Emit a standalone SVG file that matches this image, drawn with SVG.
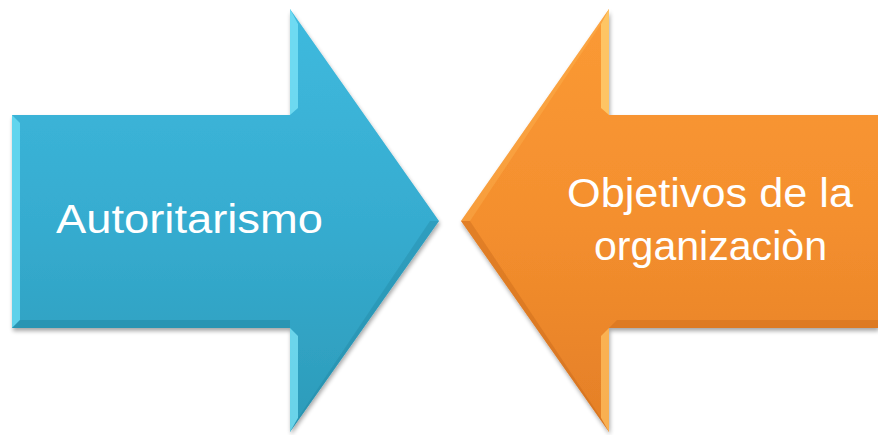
<svg xmlns="http://www.w3.org/2000/svg" width="878" height="435" viewBox="0 0 878 435">
<style>
.lbl{font-family:"Liberation Sans","Open Sans",Arial,sans-serif;font-size:40px;fill:#ffffff;text-anchor:middle}
</style>
<defs>
<linearGradient id="gBlue" x1="0" y1="0" x2="0" y2="1">
<stop offset="0" stop-color="#3fbade"/>
<stop offset="0.5" stop-color="#36acd0"/>
<stop offset="1" stop-color="#2c9bb9"/>
</linearGradient>
<linearGradient id="gOrange" x1="0" y1="0" x2="0" y2="1">
<stop offset="0" stop-color="#fb9a35"/>
<stop offset="0.5" stop-color="#f48f2e"/>
<stop offset="1" stop-color="#e47f27"/>
</linearGradient>
<filter id="sh" x="-5%" y="-5%" width="110%" height="115%">
<feGaussianBlur in="SourceAlpha" stdDeviation="2"/>
<feOffset dx="1" dy="3" result="b"/>
<feComponentTransfer><feFuncA type="linear" slope="0.35"/></feComponentTransfer>
<feMerge><feMergeNode/><feMergeNode in="SourceGraphic"/></feMerge>
</filter>
</defs>
<g id="connectors"></g>
<g id="node-autoritarismo">
<path d="M12,115 L290,115 L290,9 L439,221 L290,432 L290,328 L12,328 Z" fill="url(#gBlue)" filter="url(#sh)"/>
<path d="M12,115 L20,123 L20,320 L12,328 Z" fill="#6fe0f5" opacity="0.75"/>
<path d="M290,9 L298,24 L298,108 L290,115 Z" fill="#7fe6f8" opacity="0.75"/>
<path d="M290,328 L298,336 L298,418 L290,432 Z" fill="#7fe6f8" opacity="0.75"/>
<path d="M12,328 L20,320 L290,320 L290,328 Z" fill="#1f7f99" opacity="0.4"/>
<path d="M298,418 L430,221 L439,221 L290,432 Z" fill="#1f7f99" opacity="0.3"/>
<text class="lbl" x="189.5" y="233" textLength="267" lengthAdjust="spacingAndGlyphs">Autoritarismo</text>
</g>
<g id="node-objetivos">
<path d="M878,115 L609,115 L609,9 L461,221 L609,432 L609,328 L878,328 Z" fill="url(#gOrange)" filter="url(#sh)"/>
<path d="M609,9 L601,24 L601,108 L609,115 Z" fill="#ffd070" opacity="0.8"/>
<path d="M609,328 L601,336 L601,418 L609,432 Z" fill="#ffc060" opacity="0.75"/>
<path d="M461,221 L470,221 L601,24 L609,9 Z" fill="#ffc060" opacity="0.3"/>
<path d="M461,221 L470,221 L601,418 L609,432 Z" fill="#b85e15" opacity="0.3"/>
<path d="M609,328 L617,320 L878,320 L878,328 Z" fill="#b85e15" opacity="0.3"/>
<text class="lbl" x="710" y="207" textLength="286" lengthAdjust="spacingAndGlyphs">Objetivos de la</text>
<text class="lbl" x="710.5" y="260" textLength="233" lengthAdjust="spacingAndGlyphs">organizaciòn</text>
</g>
</svg>
